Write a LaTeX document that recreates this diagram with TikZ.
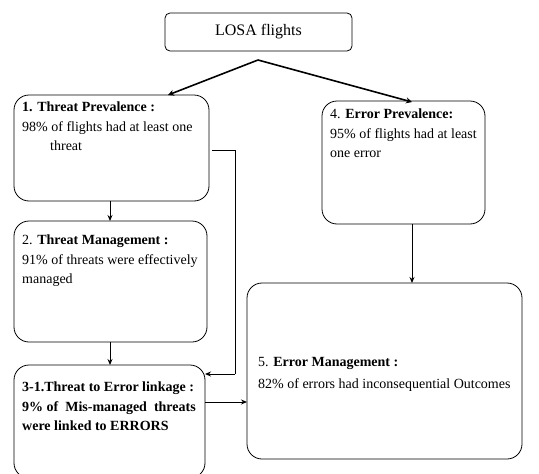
\documentclass[tikz,border=0pt]{standalone}
\usepackage{fontspec}
\setmainfont{Liberation Serif}
\usetikzlibrary{arrows.meta,calc}
\tikzset{
  box/.style={draw, line width=0.8pt, rounded corners=15pt, inner sep=0pt, outer sep=0pt},
  topbox/.style={draw, line width=0.8pt, rounded corners=5pt, inner sep=0pt, outer sep=0pt},
  txt/.style={anchor=north west, inner sep=0pt, align=left, font=\fontsize{14}{19.5}\selectfont},
  arr/.style={line width=0.9pt, -{Stealth[length=6pt,width=5pt]}},
  thickarr/.style={line width=1.6pt, -{Stealth[length=6pt,width=6pt]}},
  plain/.style={line width=0.9pt}
}
\begin{document}
\begin{tikzpicture}[x=1pt,y=-1pt]
\useasboundingbox (0,0) rectangle (539,474);
% boxes
\node[topbox, minimum width=187pt, minimum height=38pt, font=\fontsize{16}{20}\selectfont] (losa) at (258.5,32) {LOSA flights};
\node[box, minimum width=195pt, minimum height=106pt] (b1) at (111.5,148) {};
\node[box, minimum width=163pt, minimum height=123pt] (b4) at (403.5,162.5) {};
\node[box, minimum width=193pt, minimum height=121pt] (b2) at (110.5,281.5) {};
\node[box, minimum width=275pt, minimum height=176pt] (b5) at (384.5,371) {};
\node[box, minimum width=191pt, minimum height=113pt] (b3) at (109.5,421.5) {};
% texts
\node[txt] (t1) at (22,102) {\textbf{1. Threat Prevalence :}\\98\% of flights had at least one\\\hspace*{28pt}threat};
\node[txt] (t4) at (330,109) {4. \textbf{Error Prevalence:}\\95\% of flights had at least\\one error};
\node[txt] (t2) at (22,235) {2. \textbf{Threat Management :}\\91\% of threats were effectively\\managed};
\node[txt] (t3) at (22,382) {\textbf{3-1.Threat to Error linkage :}\\\textbf{9\% of \ Mis-managed \ threats}\\\textbf{were linked to ERRORS}};
\node[txt] (t5) at (258,357) {5. \textbf{Error Management :}\\[3pt]82\% of errors had inconsequential Outcomes};
% connectors
\coordinate (split) at (258,60);
\coordinate (in1) at (168,95);
\coordinate (in4) at (412,102);
\draw[thickarr] (split) -- (in1);
\draw[thickarr] (split) -- (in4);
\draw[arr] (b1.south -| 110,0) -- (b2.north -| 110,0);
\draw[arr] (b2.south -| 110,0) -- (b3.north -| 110,0);
\coordinate (e1) at (212,150);
\coordinate (e2) at (235,150);
\coordinate (e3) at (235,374);
\coordinate (e4) at (205,374);
\draw[plain] (e1) -- (e2) -- (e3);
\draw[arr] (e3) -- (e4);
\draw[arr] (b3.east |- 0,402) -- (b5.west |- 0,402);
\draw[arr] (b4.south -| 412,0) -- (b5.north -| 412,0);
\end{tikzpicture}
\end{document}
